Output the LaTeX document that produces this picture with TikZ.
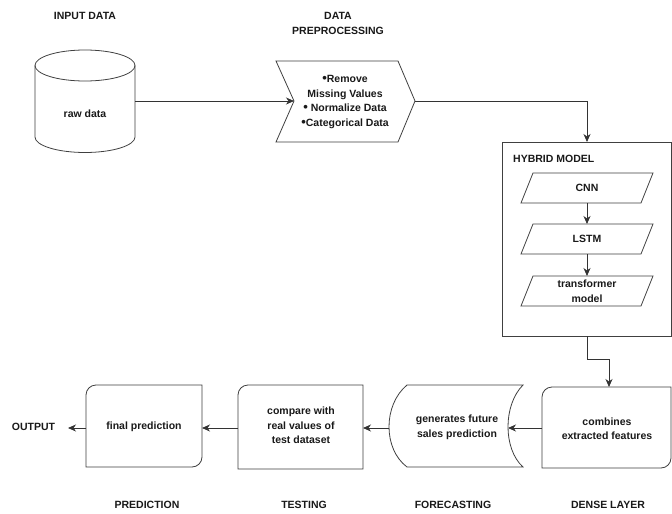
\documentclass[tikz,border=0pt]{standalone}
\usepackage{fontspec}
\setmainfont{Liberation Sans}
\usetikzlibrary{arrows.meta}
\newcommand{\bigbul}{{\fontsize{13}{14.5}\selectfont\textbullet}}
\begin{document}
\begin{tikzpicture}[x=1pt,y=-1pt,
  shp/.style={draw=black!75, line width=0.8pt},
  conn/.style={draw=black!80, line width=0.8pt},
  arr/.style={conn, -{Stealth[length=8pt,width=7pt,inset=2.5pt]}},
  txt/.style={font=\fontsize{10.5}{14.5}\selectfont\bfseries, align=center, inner sep=0pt, text=black!90}]
\useasboundingbox[fill=white] (0,0) rectangle (672,514);

% titles
\node[txt] (tInput) at (85,16) {INPUT DATA};
\node[txt] (tPre) at (338,23.5) {DATA\\PREPROCESSING};
\node[txt] (tPred) at (147,505) {PREDICTION};
\node[txt] (tTest) at (304,505) {TESTING};
\node[txt] (tFore) at (453,505) {FORECASTING};
\node[txt] (tDense) at (608,505) {DENSE LAYER};

% cylinder
\draw[shp] (35,65.5) -- (35,137) arc[start angle=180,end angle=360,x radius=50pt,y radius=15.5pt] -- (135,65.5);
\draw[shp] (85,65.5) ellipse[x radius=50pt,y radius=15.5pt];
\node[txt] (raw) at (85,114) {raw data};
\coordinate (cylR) at (135,101);

% chevron
\draw[shp] (276,61) -- (398,61) -- (415,101) -- (398,142) -- (276,142) -- (294,101) -- cycle;
\node[txt] (pre) at (345,102) {\bigbul Remove\\Missing Values\\\bigbul\ Normalize Data\\\bigbul Categorical Data};
\coordinate (chevL) at (294,101);
\coordinate (chevR) at (415,101);

% hybrid model
\draw[shp] (502,142) rectangle (671,336);
\node[txt, anchor=west] (hyb) at (513,159) {HYBRID MODEL};
\coordinate (hybT) at (587,142);
\coordinate (hybB) at (587,336);

\draw[shp] (533,173) -- (653,173) -- (641,203) -- (521,203) -- cycle;
\node[txt] (cnn) at (587,188) {CNN};
\draw[shp] (533,224) -- (653,224) -- (641,254) -- (521,254) -- cycle;
\node[txt] (lstm) at (587,239) {LSTM};
\draw[shp] (533,276) -- (653,276) -- (641,306) -- (521,306) -- cycle;
\node[txt] (trf) at (587,291) {transformer\\model};
\coordinate (cnnB) at (587,203);
\coordinate (lstmT) at (587,224);
\coordinate (lstmB) at (587,254);
\coordinate (trfT) at (587,276);

% dense layer
\draw[shp] (542,468) -- (542,397) arc[start angle=180,end angle=90,radius=10pt] -- (671,387) -- (671,458) arc[start angle=0,end angle=-90,radius=10pt] -- cycle;
\node[txt] (dense) at (607,428.5) {combines\\extracted features};
\coordinate (denseT) at (609,387);
\coordinate (denseL) at (542,428);

% forecasting
\draw[shp] (407,385) -- (523,385) .. controls (503,405) and (503,449) .. (523,467) -- (407,467) .. controls (383,449) and (383,405) .. (407,385) -- cycle;
\node[txt] (fore) at (457,427.5) {generates future\\sales prediction};
\coordinate (foreR) at (508,428);
\coordinate (foreL) at (389,428);

% testing
\draw[shp] (238,469) -- (238,395) arc[start angle=180,end angle=90,radius=10pt] -- (363,385) -- (363,469) -- cycle;
\node[txt] (cmp) at (301,425.5) {compare with\\real values of\\test dataset};
\coordinate (cmpR) at (363,428);
\coordinate (cmpL) at (238,428);

% prediction
\draw[shp] (86,467) -- (86,395) arc[start angle=180,end angle=90,radius=10pt] -- (202,385) -- (202,457) arc[start angle=0,end angle=-90,radius=10pt] -- cycle;
\node[txt] (fin) at (144,427) {final prediction};
\coordinate (finR) at (202,428);
\coordinate (finL) at (86,428);

\node[txt] (out) at (33.5,427) {OUTPUT};
\coordinate (outArr) at (68,428);

% connectors
\draw[arr] (cylR) -- (chevL);
\draw[arr] (chevR) -| (hybT);
\draw[arr] (cnnB) -- (lstmT);
\draw[arr] (lstmB) -- (trfT);
\draw[arr] (hybB) -- (587,359) -| (denseT);
\draw[arr] (denseL) -- (foreR);
\draw[arr] (foreL) -- (cmpR);
\draw[arr] (cmpL) -- (finR);
\draw[arr] (finL) -- (outArr);
\end{tikzpicture}
\end{document}
